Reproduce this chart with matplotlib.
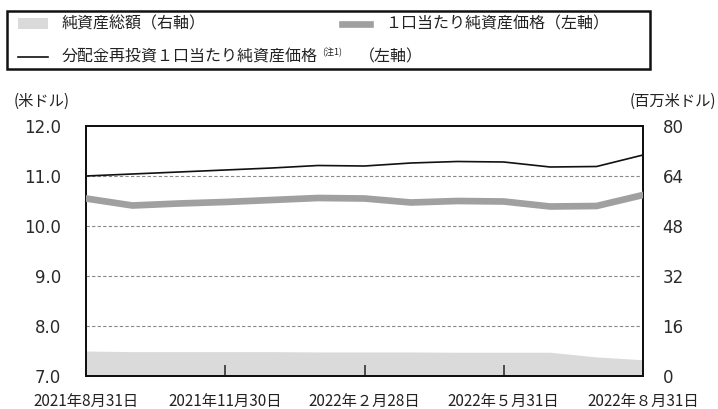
import matplotlib
matplotlib.use('Agg')
import matplotlib.pyplot as plt
from matplotlib.patches import Rectangle
from matplotlib.lines import Line2D

plt.rcParams['font.family'] = ['Noto Sans CJK JP', 'DejaVu Sans']

# data (month-end, 2021-08 .. 2022-08)
dates = ['2021年8月31日', '2021年9月30日', '2021年10月29日', '2021年11月30日',
         '2021年12月31日', '2022年1月31日', '2022年2月28日', '2022年3月31日',
         '2022年4月29日', '2022年5月31日', '2022年6月30日', '2022年7月29日',
         '2022年8月31日']
nav_reinvest = [11.00, 11.04, 11.08, 11.12, 11.16, 11.21, 11.20, 11.26,
                11.29, 11.28, 11.18, 11.19, 11.42]
nav = [10.55, 10.41, 10.45, 10.48, 10.52, 10.56, 10.55, 10.47,
       10.50, 10.49, 10.39, 10.40, 10.62]
net_assets = [8.0, 7.8, 7.8, 7.8, 7.8, 7.7, 7.7, 7.7, 7.6, 7.6, 7.6, 6.1, 5.2]

tick_idx = [0, 3, 6, 9, 12]
tick_labels = ['2021年8月31日', '2021年11月30日', '2022年２月28日',
               '2022年５月31日', '2022年８月31日']
left_ticks = [7.0, 8.0, 9.0, 10.0, 11.0, 12.0]
right_ticks = [0, 16, 32, 48, 64, 80]

TXT = '#222222'
NUM = dict(family='DejaVu Sans', fontsize=12, color='#2a2a2a')
x = list(range(len(dates)))

fig = plt.figure(figsize=(7.18, 4.09), dpi=100)
ax = fig.add_axes([86/718, 1 - 376/409, (643 - 86)/718, (376 - 126)/409])
ax2 = ax.twinx()

# area on the right axis, behind the lines
ax2.fill_between(x, 0, net_assets, color='#dadada', lw=0, zorder=1)
ax2.set_ylim(0, 80)
ax2.set_yticks(right_ticks)
ax2.set_yticklabels([str(v) for v in right_ticks], **NUM)
ax2.tick_params(axis='y', length=0, pad=14)

ax.set_zorder(ax2.get_zorder() + 1)
ax.patch.set_visible(False)
for g in [8.0, 9.0, 10.0, 11.0]:
    ax.axhline(g, color='#888888', lw=0.8, ls=(0, (3, 2)), zorder=1)
ax.plot(x, nav, color='#a0a0a0', lw=4.8, solid_joinstyle='round', zorder=3)
ax.plot(x, nav_reinvest, color='#111111', lw=1.2, zorder=4)
ax.set_xlim(0, 12)
ax.set_ylim(7.0, 12.0)
ax.set_yticks(left_ticks)
ax.set_yticklabels([f'{v:.1f}' for v in left_ticks], **NUM)
ax.tick_params(axis='y', length=0, pad=18)
ax.set_xticks(tick_idx)
ax.set_xticklabels(tick_labels, fontsize=11, color=TXT)
ax.tick_params(axis='x', direction='in', length=8, width=1.2, color='#333333', pad=12)

for a in (ax, ax2):
    for s in a.spines.values():
        s.set_color('#111111')
        s.set_linewidth(1.4)

fig.text(14/718, 1 - 101/409, '(米ドル)', fontsize=11, color=TXT, va='center')
fig.text(716/718, 1 - 101/409, '(百万米ドル)', fontsize=11, color=TXT,
         va='center', ha='right')

# legend box
fig.add_artist(Rectangle((7/718, 1 - 69/409), 643/718, 58/409,
                         transform=fig.transFigure, fill=False,
                         ec='#111111', lw=1.8))
fig.add_artist(Rectangle((18/718, 1 - 29/409), 30/718, 11/409,
                         transform=fig.transFigure, fc='#dadada', lw=0))
fig.text(62/718, 1 - 24/409, '純資産総額（右軸）', fontsize=11.5, color=TXT, va='center')
fig.add_artist(Line2D([342/718, 370/718], [1 - 24/409, 1 - 24/409],
                      transform=fig.transFigure, color='#a0a0a0', lw=4.8))
fig.text(385/718, 1 - 24/409, '１口当たり純資産価格（左軸）', fontsize=11.5,
         color=TXT, va='center')
fig.add_artist(Line2D([18/718, 48/718], [1 - 57/409, 1 - 57/409],
                      transform=fig.transFigure, color='#111111', lw=1.2))
fig.text(62/718, 1 - 57/409, '分配金再投資１口当たり純資産価格', fontsize=11.5,
         color=TXT, va='center')
fig.text(322/718, 1 - 52/409, '(注1)', fontsize=6.5, color=TXT, va='center')
fig.text(359/718, 1 - 57/409, '（左軸）', fontsize=11.5, color=TXT, va='center')

fig.savefig('out.png', dpi=100)
